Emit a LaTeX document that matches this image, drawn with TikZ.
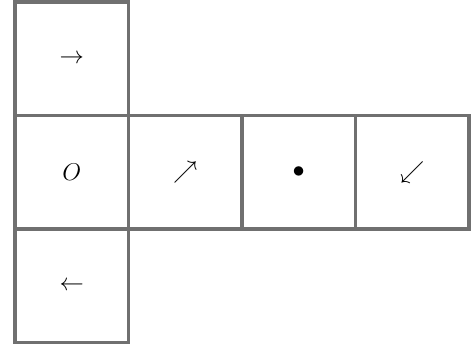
\documentclass[tikz,border=0pt]{standalone}
\begin{document}
\begin{tikzpicture}[x=0.03cm,y=-0.03cm]

\def\cellW{113.5}
\def\leftX{15}
\def\topY{2}

\tikzset{
  cell/.style={draw=black!56, line width=2.9pt, minimum size=\cellW*0.03cm, inner sep=0pt,
    font=\fontsize{22}{26}\selectfont}
}

\useasboundingbox (0,0) rectangle (474,345);

% top face
\node[cell] (faceTop) at (\leftX+\cellW/2, \topY+\cellW/2) {$\rightarrow$};

% middle row
\node[cell] (faceO) at (\leftX+\cellW/2, \topY+1.5*\cellW) {$O$};
\node[cell] (faceNE) at (\leftX+1.5*\cellW, \topY+1.5*\cellW) {$\nearrow$};
\node[cell] (faceDot) at (\leftX+2.5*\cellW, \topY+1.5*\cellW) {$\bullet$};
\node[cell] (faceSW) at (\leftX+3.5*\cellW, \topY+1.5*\cellW) {$\swarrow$};

% bottom face
\node[cell] (faceBottom) at (\leftX+\cellW/2, \topY+2.5*\cellW) {$\leftarrow$};

\end{tikzpicture}
\end{document}
